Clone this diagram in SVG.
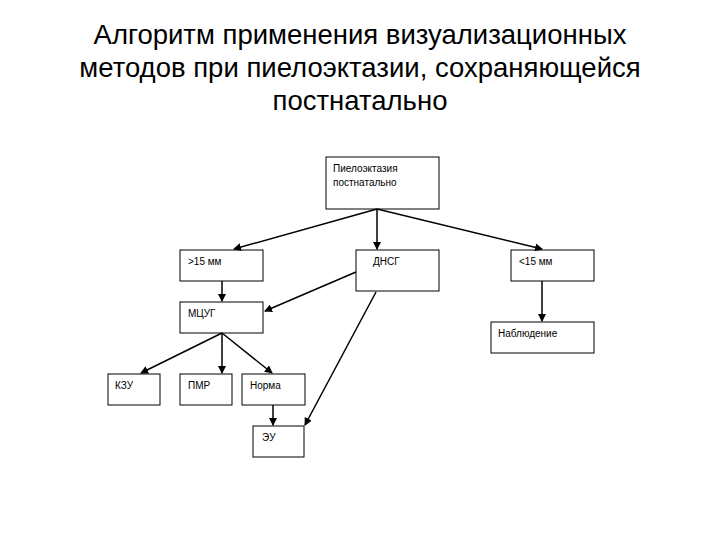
<svg xmlns="http://www.w3.org/2000/svg" width="720" height="540" viewBox="0 0 720 540">
<defs>
<marker id="a" markerWidth="8" markerHeight="8" refX="7" refY="4" orient="auto" markerUnits="userSpaceOnUse"><path d="M0,0 L8,4 L0,8 z" fill="#000"/></marker>
<style>
.b{fill:#fff;stroke:#000;stroke-width:1}
.t{font-family:"Liberation Sans",Arial,sans-serif;font-size:10px;fill:#000}
.h{font-family:"Liberation Sans",Arial,sans-serif;font-size:27.5px;fill:#000;text-anchor:middle}
.c line{stroke:#000;stroke-width:1.5;marker-end:url(#a)}
</style>
</defs>
<rect width="720" height="540" fill="#fff"/>
<g id="title">
<text class="h" x="360" y="44">Алгоритм применения визуализационных</text>
<text class="h" x="360" y="77">методов при пиелоэктазии, сохраняющейся</text>
<text class="h" x="360" y="110">постнатально</text>
</g>
<g id="n-top"><rect class="b" x="326" y="157" width="113" height="52"/><text class="t" x="333" y="172">Пиелоэктазия</text><text class="t" x="333" y="186">постнатально</text></g>
<g id="n-gt15"><rect class="b" x="180" y="250" width="83" height="31"/><text class="t" x="188" y="265">&gt;15 мм</text></g>
<g id="n-dnsg"><rect class="b" x="356" y="250" width="83" height="41"/><text class="t" x="373" y="265">ДНСГ</text></g>
<g id="n-lt15"><rect class="b" x="511" y="250" width="83" height="31"/><text class="t" x="519" y="265">&lt;15 мм</text></g>
<g id="n-mcug"><rect class="b" x="180" y="302" width="83" height="31"/><text class="t" x="188" y="317">МЦУГ</text></g>
<g id="n-nabl"><rect class="b" x="491" y="322" width="103" height="31"/><text class="t" x="498" y="337">Наблюдение</text></g>
<g id="n-kzu"><rect class="b" x="108" y="374" width="52" height="31"/><text class="t" x="115" y="389">КЗУ</text></g>
<g id="n-pmr"><rect class="b" x="180" y="374" width="52" height="31"/><text class="t" x="188" y="389">ПМР</text></g>
<g id="n-norma"><rect class="b" x="242" y="374" width="63" height="31"/><text class="t" x="250" y="389">Норма</text></g>
<g id="n-eu"><rect class="b" x="253" y="426" width="51" height="31"/><text class="t" x="262" y="441">ЭУ</text></g>
<g id="connectors" class="c">
<line x1="377" y1="209" x2="234" y2="249"/>
<line x1="377" y1="209" x2="377" y2="249"/>
<line x1="377" y1="209" x2="542" y2="249"/>
<line x1="222" y1="281" x2="222" y2="301"/>
<line x1="356" y1="272" x2="265" y2="311"/>
<line x1="376" y1="292" x2="305" y2="425"/>
<line x1="542" y1="281" x2="542" y2="321"/>
<line x1="222" y1="333" x2="141" y2="373"/>
<line x1="222" y1="333" x2="222" y2="373"/>
<line x1="222" y1="333" x2="272" y2="373"/>
<line x1="273" y1="405" x2="273" y2="425"/>
</g>
</svg>
